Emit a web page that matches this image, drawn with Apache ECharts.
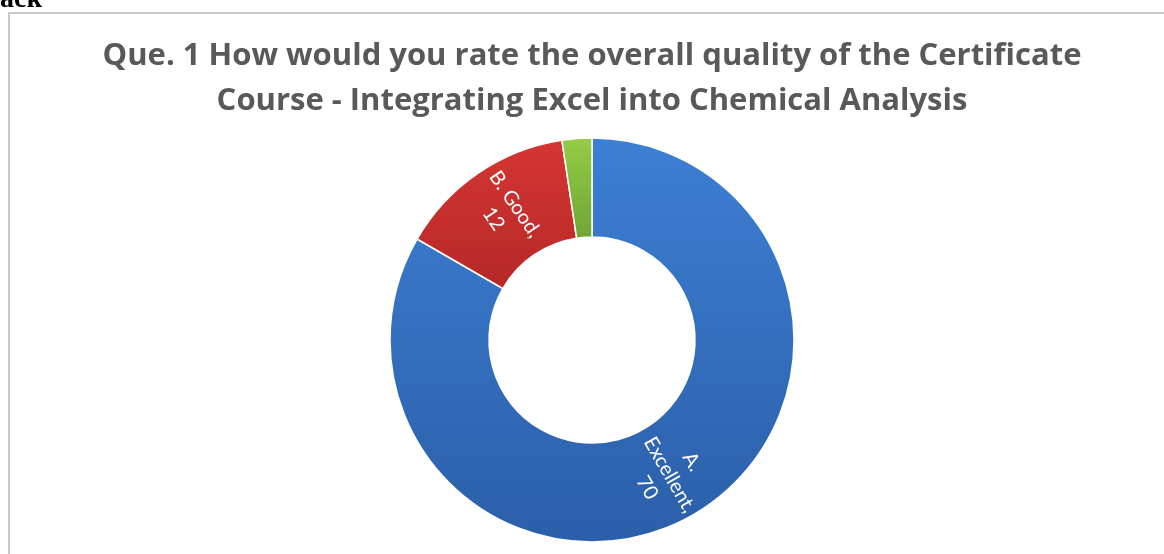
<!DOCTYPE html>
<html>
<head>
<meta charset="utf-8">
<script src="https://cdn.jsdelivr.net/npm/echarts@6/dist/echarts.min.js"></script>
<style>
html,body{margin:0;padding:0;background:#fff;}
#c{width:1164px;height:554px;}
</style>
</head>
<body>
<div id="c"></div>
<script>
const titleLines = [
  'Que. 1 How would you rate the overall quality of the Certificate',
  'Course - Integrating Excel into Chemical Analysis'
];
const categories = ['A. Excellent', 'B. Good', 'C. Average'];
const values = [70, 12, 2];
const showLabel = [true, true, false];
const sliceColors = [
  ['#3d7fd4', '#2b5ea8'],
  ['#d53632', '#b52827'],
  ['#96cc46', '#6fa534']
];
const headerText = 'ack';

const chart = echarts.init(document.getElementById('c'), null, {renderer: 'canvas'});
const data = categories.map((name, i) => ({
  name: name,
  value: values[i],
  itemStyle: {
    color: new echarts.graphic.LinearGradient(0, 0, 0, 1, [
      {offset: 0, color: sliceColors[i][0]},
      {offset: 1, color: sliceColors[i][1]}
    ])
  },
  label: {show: showLabel[i]}
}));

chart.setOption({
  animation: false,
  graphic: [
    {type: 'rect', shape: {x: 9, y: 13, width: 1300, height: 700},
     style: {fill: 'none', stroke: '#b8b8b8', lineWidth: 1.5}},
    {type: 'text', x: 0, y: -14,
     style: {text: headerText, font: 'bold 28px "Liberation Serif"', fill: '#000',
             textAlign: 'left', textVerticalAlign: 'top'}},
    {type: 'text', x: 592, y: 56,
     style: {text: titleLines[0], font: 'bold 31px "Open Sans"', fill: '#595959',
             textAlign: 'center', textVerticalAlign: 'middle'}},
    {type: 'text', x: 592, y: 101,
     style: {text: titleLines[1], font: 'bold 31px "Open Sans"', fill: '#595959',
             textAlign: 'center', textVerticalAlign: 'middle'}}
  ],
  series: [{
    type: 'pie',
    center: [592, 340],
    radius: [103, 202],
    startAngle: 90,
    clockwise: true,
    avoidLabelOverlap: false,
    itemStyle: {borderColor: '#ffffff', borderWidth: 1.5},
    label: {
      position: 'inside',
      rotate: 'radial',
      color: '#ffffff',
      fontFamily: 'Lato',
      fontSize: 20,
      lineHeight: 26,
      formatter: p => (p.dataIndex === 0 ? p.name.replace(' ', '\n') : p.name) + ',\n' + p.value
    },
    labelLine: {show: false},
    emphasis: {disabled: true},
    data: data
  }]
});
</script>
</body>
</html>
